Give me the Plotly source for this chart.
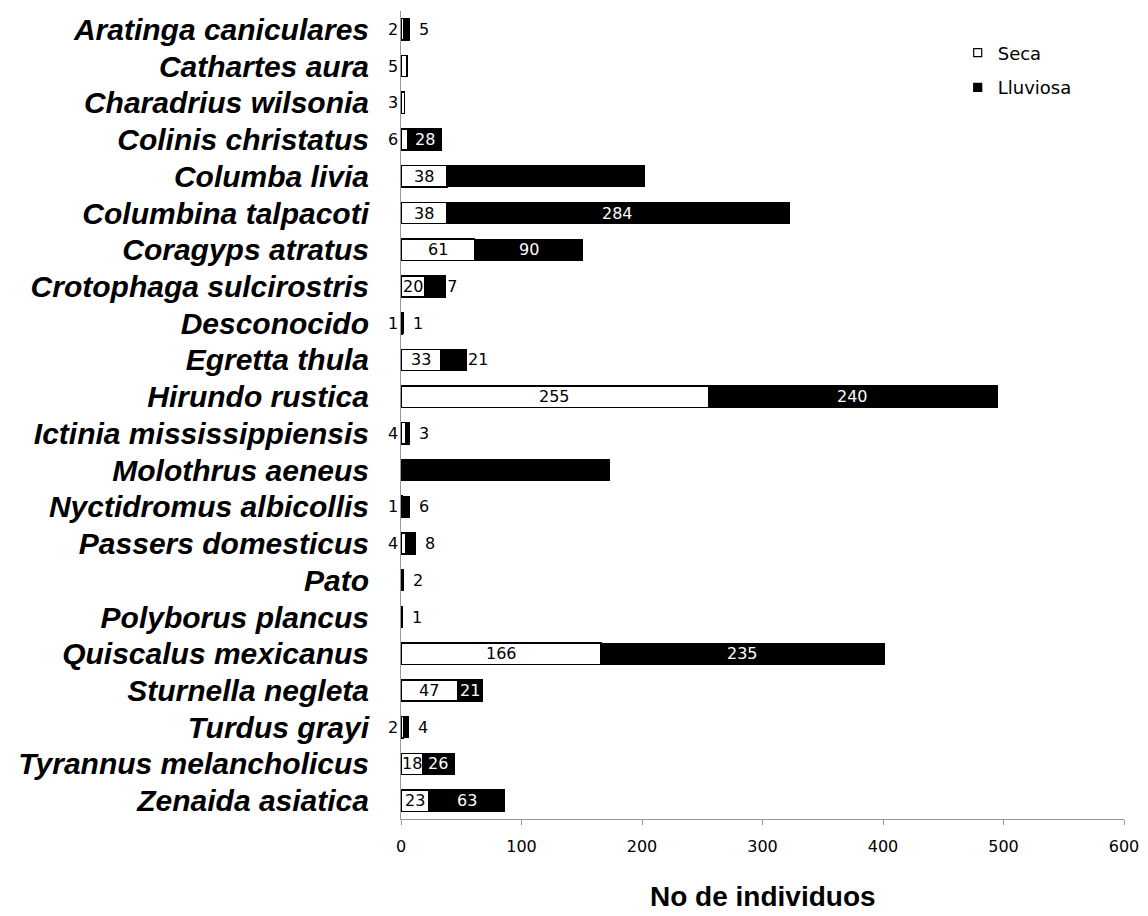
import plotly.graph_objects as go

species = ["Aratinga caniculares", "Cathartes aura", "Charadrius wilsonia", "Colinis christatus",
           "Columba livia", "Columbina talpacoti", "Coragyps atratus", "Crotophaga sulcirostris",
           "Desconocido", "Egretta thula", "Hirundo rustica", "Ictinia mississippiensis",
           "Molothrus aeneus", "Nyctidromus albicollis", "Passers domesticus", "Pato",
           "Polyborus plancus", "Quiscalus mexicanus", "Sturnella negleta", "Turdus grayi",
           "Tyrannus melancholicus", "Zenaida asiatica"]
seca = [2, 5, 3, 6, 38, 38, 61, 20, 1, 33, 255, 4, 0, 1, 4, 0, 0, 166, 47, 2, 18, 23]
lluviosa = [5, 0, 0, 28, 164, 284, 90, 17, 1, 21, 240, 3, 173, 6, 8, 2, 1, 235, 21, 4, 26, 63]
seca_labels = ["2", "5", "3", "6", "38", "38", "61", "20", "1", "33", "255", "4", "", "1", "4", "", "",
               "166", "47", "2", "18", "23"]
lluviosa_labels = ["5", "", "", "28", "", "284", "90", "17", "1", "21", "240", "3", "", "6", "8", "2", "1",
                   "235", "21", "4", "26", "63"]
x_ticks = [0, 100, 200, 300, 400, 500, 600]

FONT = "DejaVu Sans, Liberation Sans, Arial, sans-serif"
CAT_FONT = "Liberation Sans, Arial, sans-serif"
LBL = 16

fig = go.Figure()
fig.add_trace(go.Bar(
    y=species, x=seca, orientation="h", name="Seca", showlegend=False,
    marker=dict(color="white", line=dict(color="black", width=1.5)),
    hoverinfo="x+y",
))
fig.add_trace(go.Bar(
    y=species, x=lluviosa, orientation="h", name="Lluviosa", showlegend=False,
    marker=dict(color="black", line=dict(color="black", width=1)),
    hoverinfo="x+y",
))
# legend entries (small square symbols)
fig.add_trace(go.Scatter(x=[None], y=[None], mode="markers", name="Seca", legend="legend",
                         marker=dict(symbol="square", size=8, color="white",
                                     line=dict(color="black", width=1.2))))
fig.add_trace(go.Scatter(x=[None], y=[None], mode="markers", name="Lluviosa", legend="legend2",
                         marker=dict(symbol="square", size=8, color="black",
                                     line=dict(color="black", width=1.2))))

# label placement (style only)
outside_right_lluv = {"Egretta thula"}
at_end_lluv = {"Crotophaga sulcirostris"}

annotations = []
for sp, s, l, sl, ll in zip(species, seca, lluviosa, seca_labels, lluviosa_labels):
    if sl:
        if s >= 15:
            annotations.append(dict(x=s / 2, y=sp, text=sl, showarrow=False, xanchor="center",
                                    font=dict(color="black", size=LBL, family=FONT)))
        else:
            annotations.append(dict(x=0, y=sp, text=sl, showarrow=False, xanchor="right", xshift=-1,
                                    font=dict(color="black", size=LBL, family=FONT)))
    if ll:
        if sp in at_end_lluv:
            annotations.append(dict(x=s + l, y=sp, text=ll, showarrow=False, xanchor="center", xshift=1,
                                    font=dict(color="black", size=LBL, family=FONT)))
        elif l >= 15 and sp not in outside_right_lluv:
            annotations.append(dict(x=s + l / 2, y=sp, text=ll, showarrow=False, xanchor="center",
                                    font=dict(color="white", size=LBL, family=FONT)))
        else:
            shift = 0 if sp in outside_right_lluv else 8
            annotations.append(dict(x=s + l, y=sp, text=ll, showarrow=False, xanchor="left", xshift=shift,
                                    font=dict(color="black", size=LBL, family=FONT)))

annotations.append(dict(text="<b>No de individuos</b>", x=0.5, xref="paper", y=-0.096, yref="paper",
                        xanchor="center", yanchor="middle", showarrow=False,
                        font=dict(size=28, family=CAT_FONT, color="black")))

legend_common = dict(xanchor="left", yanchor="middle", font=dict(size=18, family=FONT),
                     bgcolor="rgba(0,0,0,0)", itemwidth=30)

fig.update_layout(
    barmode="stack",
    bargap=0.42,
    width=1140, height=908,
    margin=dict(l=393, r=24, t=3, b=97, autoexpand=False),
    paper_bgcolor="white", plot_bgcolor="white",
    font=dict(family=FONT, color="black"),
    showlegend=True,
    legend=dict(x=0.77, y=0.948, **legend_common),
    legend2=dict(x=0.77, y=0.905, **legend_common),
    annotations=annotations,
)
fig.update_xaxes(
    range=[0, 600], tickvals=x_ticks, ticktext=[str(t) for t in x_ticks],
    showgrid=False, zeroline=False, automargin=False,
    showline=True, linecolor="#999999", linewidth=1,
    ticks="outside", ticklen=5, tickcolor="#999999",
    ticklabelstandoff=8,
    tickfont=dict(size=16, family=FONT),
)
fig.update_yaxes(
    autorange="reversed", showgrid=False, zeroline=False, automargin=False,
    showline=True, linecolor="#999999", linewidth=1,
    ticks="outside", ticklen=25, tickcolor="rgba(0,0,0,0)",
    tickfont=dict(size=30, family=CAT_FONT, weight="bold", style="italic"),
)

fig.write_html("out.html")
